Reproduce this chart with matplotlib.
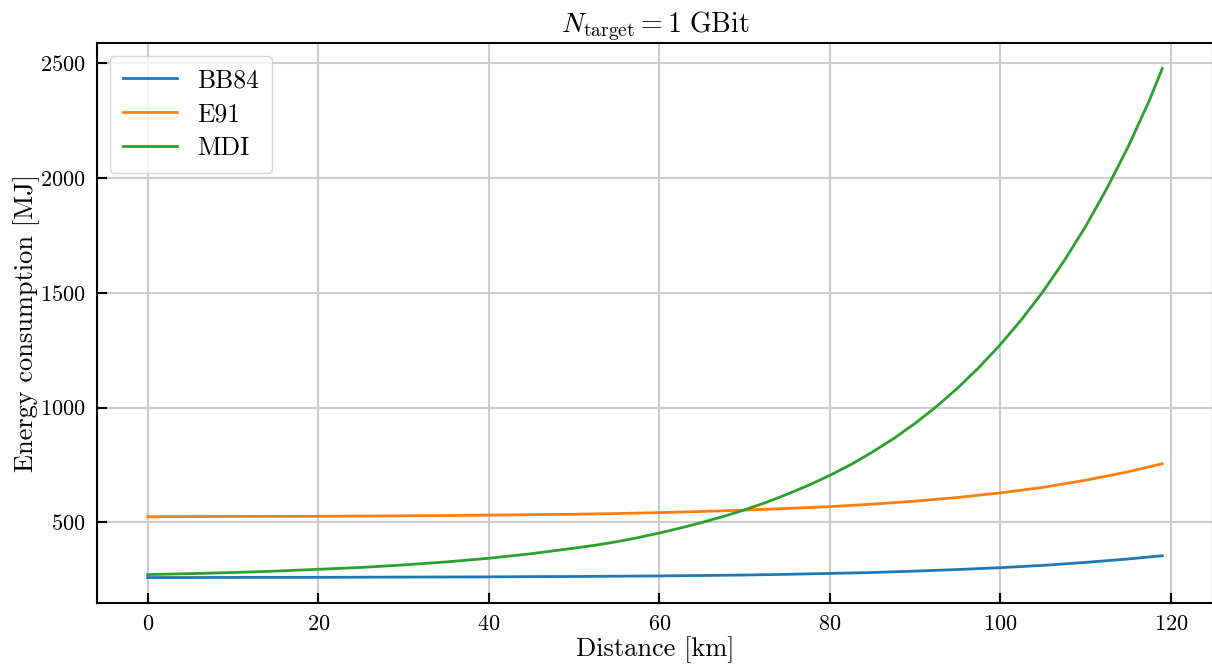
import numpy as np
from matplotlib import pyplot as plt

# distance in km
distance = [0, 5, 10, 15, 20, 25, 30, 35, 40, 45, 50, 55, 60,
            65, 70, 75, 80, 85, 90, 95, 100, 105, 110, 115, 119]

# energy consumption in MJ
bb84 = [259, 259, 259.5, 260, 260, 260.5, 261, 261.5, 262, 263, 263.5, 265, 266,
        268, 270, 273, 277, 281, 287, 294, 302, 312, 325, 340, 354]
e91 = [524, 524.5, 525, 525.5, 526, 527, 528, 529.5, 531, 533, 535, 538, 542,
       547, 553, 560, 568, 579, 592, 608, 628, 652, 683, 720, 755]

# MDI rises steeply, so it was read at a finer step
distance_mdi = [0, 5, 10, 15, 20, 25, 30, 35, 40, 45, 50, 52.5, 55, 57.5, 60,
                62.5, 65, 67.5, 70, 72.5, 75, 77.5, 80, 82.5, 85, 87.5, 90,
                92.5, 95, 97.5, 100, 102.5, 105, 107.5, 110, 112.5, 115,
                117.5, 119]
mdi = [272, 276, 281, 287, 295, 303, 314, 327, 343, 363, 387, 400, 415, 433, 453,
       475, 499, 525, 554, 586, 622, 661, 704, 752, 806, 865, 931,
       1004, 1085, 1175, 1274, 1384, 1505, 1640, 1789, 1955, 2137,
       2340, 2478]

plt.rcParams['font.family'] = 'serif'
plt.rcParams['font.serif'] = ['cmr10', 'DejaVu Serif']
plt.rcParams['mathtext.fontset'] = 'cm'
plt.rcParams['axes.formatter.use_mathtext'] = True

fig = plt.figure(figsize = (12.12, 6.64), dpi = 100)
ax = fig.add_axes([97/1212, 61/664, 1116/1212, 560/664])

ax.plot(distance, bb84, color = 'C0', lw = 2, label = 'BB84')
ax.plot(distance, e91, color = 'C1', lw = 2, label = 'E91')
ax.plot(distance_mdi, mdi, color = 'C2', lw = 2, label = 'MDI')

ax.grid(color = '#cccccc', linewidth = 1.5)
ax.set_axisbelow(True)
ax.set_xticks([0, 20, 40, 60, 80, 100, 120])
ax.set_yticks([500, 1000, 1500, 2000, 2500])
ax.tick_params(direction = 'in', length = 7, width = 1.5, labelsize = 16, pad = 8)
for s in ax.spines.values():
    s.set_linewidth(1.5)

ax.set_xlabel('Distance [km]', fontsize = 19, labelpad = 2)
ax.set_ylabel('Energy consumption [MJ]', fontsize = 19, labelpad = 0)
ax.set_title(r'$N_{\rm target} = 1\ $GBit', fontsize = 20, pad = 6)
ax.legend(loc = 'upper left', fontsize = 18.5, handlelength = 2.1,
          borderpad = 0.5, labelspacing = 0.4)

fig.savefig('out.png', dpi = 100)
